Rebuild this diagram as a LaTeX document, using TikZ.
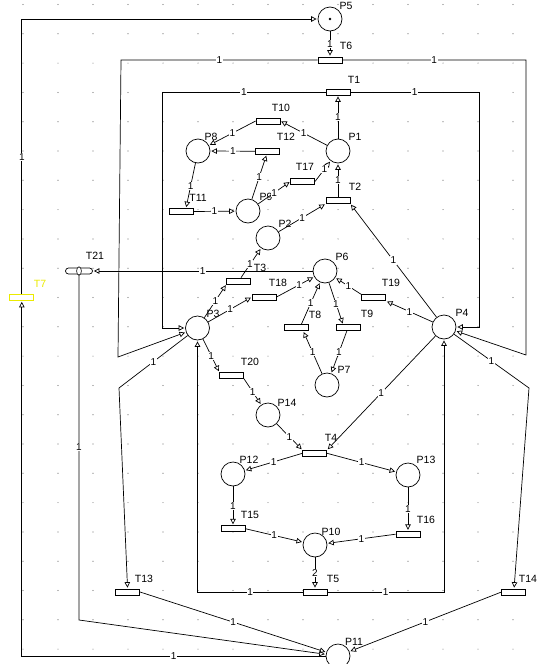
\documentclass[tikz,border=0pt]{standalone}
\usepackage{fontspec}
\setmainfont{Liberation Sans}
\usetikzlibrary{arrows.meta, calc}
\definecolor{selyellow}{RGB}{235,235,0}
\tikzset{
    place/.style={draw, circle, minimum size=24pt, inner sep=0pt, fill=white, line width=0.7pt},
    trans/.style={draw, rectangle, minimum width=24pt, minimum height=6pt, inner sep=0pt, fill=white, line width=0.7pt},
    lbl/.style={font=\fontsize{10.5}{11}\selectfont, inner sep=0pt},
    wt/.style={font=\fontsize{10}{11}\selectfont, inner sep=0.6pt, fill=white},
    flow/.style={-{Triangle[open, length=5.5pt, width=5.5pt]}, line width=0.7pt, shorten >=1pt}
}

\begin{document}
\begin{tikzpicture}[x=1pt, y=-1pt]
    \useasboundingbox (0,0) rectangle (543,664);
    \foreach \i in {0,...,14}
        \foreach \j in {0,...,22}
            \fill[black!55] (23+35*\i, 4.5+29.3*\j) circle (0.6);

    % places
    \node (P1) [place] at (338,151) {};
    \node (P2) [place] at (268,238) {};
    \node (P3) [place] at (197.5,328) {};
    \node (P4) [place] at (444,327) {};
    \node (P5) [place] at (330,19) {};
    \node (P6) [place] at (325,271) {};
    \node (P7) [place] at (327,385) {};
    \node (P8) [place] at (198,151) {};
    \node (P9) [place] at (248,211) {};
    \node (P10) [place] at (315,545) {};
    \node (P11) [place] at (338,656) {};
    \node (P12) [place] at (233,474) {};
    \node (P13) [place] at (408,475) {};
    \node (P14) [place] at (268,415) {};
    \fill (P5) circle (1.3);

    % transitions
    \node (T1) [trans] at (338,92) {};
    \node (T2) [trans] at (338,200.5) {};
    \node (T3) [trans] at (238.7,281) {};
    \node (T4) [trans] at (314.7,453.3) {};
    \node (T5) [trans] at (315,592) {};
    \node (T6) [trans] at (330,60) {};
    \node (T7) [trans, draw=selyellow] at (21.8,297.5) {};
    \node (T8) [trans] at (296.3,327.8) {};
    \node (T9) [trans] at (348,327.8) {};
    \node (T10) [trans] at (268,121) {};
    \node (T11) [trans] at (181,211.5) {};
    \node (T12) [trans] at (267.7,151.2) {};
    \node (T13) [trans] at (127.7,592) {};
    \node (T14) [trans] at (513.8,592) {};
    \node (T15) [trans] at (233,528.7) {};
    \node (T16) [trans] at (408,534.2) {};
    \node (T17) [trans] at (302.7,181.5) {};
    \node (T18) [trans] at (264.2,297) {};
    \node (T19) [trans] at (373.7,297.8) {};
    \node (T20) [trans] at (231.7,375.5) {};
    \node (T21) [trans, rounded corners=3pt, minimum width=27pt] at (79,271) {};
    \draw[fill=white, line width=0.6pt] (T21.center) ellipse (2.4 and 4.2);

    % names
    \node (lP1) [lbl] at (355,137) {P1};
    \node (lP2) [lbl] at (285,224) {P2};
    \node (lP3) [lbl] at (213,314) {P3};
    \node (lP4) [lbl] at (462,313) {P4};
    \node (lP5) [lbl] at (346,6) {P5};
    \node (lP6) [lbl] at (342,257) {P6};
    \node (lP7) [lbl] at (344,370) {P7};
    \node (lP8) [lbl] at (211,137) {P8};
    \node (lP9) [lbl] at (266,197) {P9};
    \node (lP10) [lbl] at (331,532) {P10};
    \node (lP11) [lbl] at (354,642) {P11};
    \node (lP12) [lbl] at (249,460) {P12};
    \node (lP13) [lbl] at (426,460) {P13};
    \node (lP14) [lbl] at (287,403) {P14};
    \node (lT1) [lbl] at (354,80) {T1};
    \node (lT2) [lbl] at (355,187) {T2};
    \node (lT3) [lbl] at (260,268) {T3};
    \node (lT4) [lbl] at (331,438) {T4};
    \node (lT5) [lbl] at (333,579) {T5};
    \node (lT6) [lbl] at (346,46) {T6};
    \node (lT7) [lbl, text=selyellow] at (40,284) {T7};
    \node (lT8) [lbl] at (315,315) {T8};
    \node (lT9) [lbl] at (367,314) {T9};
    \node (lT10) [lbl] at (281,108) {T10};
    \node (lT11) [lbl] at (198,198) {T11};
    \node (lT12) [lbl] at (286,137) {T12};
    \node (lT13) [lbl] at (144,579) {T13};
    \node (lT14) [lbl] at (528,579) {T14};
    \node (lT15) [lbl] at (250,515) {T15};
    \node (lT16) [lbl] at (426,520) {T16};
    \node (lT17) [lbl] at (305,167) {T17};
    \node (lT18) [lbl] at (278,283) {T18};
    \node (lT19) [lbl] at (391,283) {T19};
    \node (lT20) [lbl] at (250,362) {T20};
    \node (lT21) [lbl] at (95,256) {T21};

    % arcs
    \draw [flow] (T7) -- node[wt] {1} (21.8,19) -- (P5);
    \draw [flow] (P11) -- node[wt] {1} (21.8,656) -- (T7);
    \draw [flow] (P5) -- node[wt] {1} (T6);
    \draw [flow] (T6) -- node[wt] {1} (121,60) -- (118,357) -- (P3);
    \draw [flow] (T6) -- node[wt] {1} (526,60) -- (526,355) -- (P4);
    \draw [flow] (T1) -- node[wt] {1} (162,92) -- (162,328) -- (P3);
    \draw [flow] (T1) -- node[wt] {1} (479,92) -- (479,327) -- (P4);
    \draw [flow] (P1) -- node[wt] {1} (T1);
    \draw [flow] (P1) -- node[wt] {1} (T10.east);
    \draw [flow] (T10.west) -- node[wt] {1} (P8);
    \draw [flow] (T12.west) -- node[wt] {1} (P8);
    \draw [flow] (P8) -- node[wt] {1} ($(T11.north)+(5,0)$);
    \draw [flow] (T11.east) -- node[wt] {1} (P9);
    \draw [flow] (P9) -- node[wt] {1} (T12);
    \draw [flow] (P9) -- node[wt] {1} (T17.west);
    \draw [flow] (T17.east) -- node[wt, pos=0.6] {1} (P1);
    \draw [flow] (T2) -- node[wt] {1} (P1);
    \draw [flow] (P2) -- node[wt] {1} (T2.south west);
    \draw [flow] (P4) -- node[wt] {1} (T2.south east);
    \draw [flow] (P6) -- node[wt] {1} (T21);
    \draw [flow] (T21) -- node[wt] {1} (79,620) -- (P11);
    \draw [flow] (T3) -- node[wt, pos=0.45] {1} (P2);
    \draw [flow] (P3) -- node[wt] {1} (T3.south west);
    \draw [flow] (P3) -- node[wt] {1} (T18.west);
    \draw [flow] (T18.east) -- node[wt, pos=0.6] {1} (P6);
    \draw [flow] ($(T8.north)+(5,0)$) -- node[wt] {1} (P6);
    \draw [flow] (P6) -- node[wt] {1} ($(T9.north)+(-5,0)$);
    \draw [flow] (T19.north west) -- node[wt] {1} (P6);
    \draw [flow] (P4) -- node[wt] {1} (T19.south east);
    \draw [flow] (T9) -- node[wt] {1} (P7);
    \draw [flow] (P7) -- node[wt] {1} ($(T8.south)+(7,0)$);
    \draw [flow] (P3) -- node[wt] {1} (T20.north west);
    \draw [flow] (T20.south east) -- node[wt] {1} (P14);
    \draw [flow] (P14) -- node[wt] {1} (T4.north west);
    \draw [flow] (P4) -- node[wt] {1} (T4.north east);
    \draw [flow] (T4.west) -- node[wt] {1} (P12);
    \draw [flow] (T4.east) -- node[wt] {1} (P13);
    \draw [flow] (P12) -- node[wt] {1} (T15);
    \draw [flow] (P13) -- node[wt] {1} (T16);
    \draw [flow] (T15.east) -- node[wt] {1} (P10);
    \draw [flow] (T16.west) -- node[wt] {1} (P10);
    \draw [flow] (P10) -- node[wt] {2} (T5);
    \draw [flow] (T5) -- node[wt] {1} (197.5,592) -- (P3);
    \draw [flow] (T5) -- node[wt] {1} (444,592) -- (P4);
    \draw [flow] (P3) -- node[wt] {1} (119,388) -- (T13);
    \draw [flow] (P4) -- node[wt] {1} (529,388) -- (T14);
    \draw [flow] (T13.east) -- node[wt] {1} (P11);
    \draw [flow] (T14.west) -- node[wt] {1} (P11);
\end{tikzpicture}
\end{document}
